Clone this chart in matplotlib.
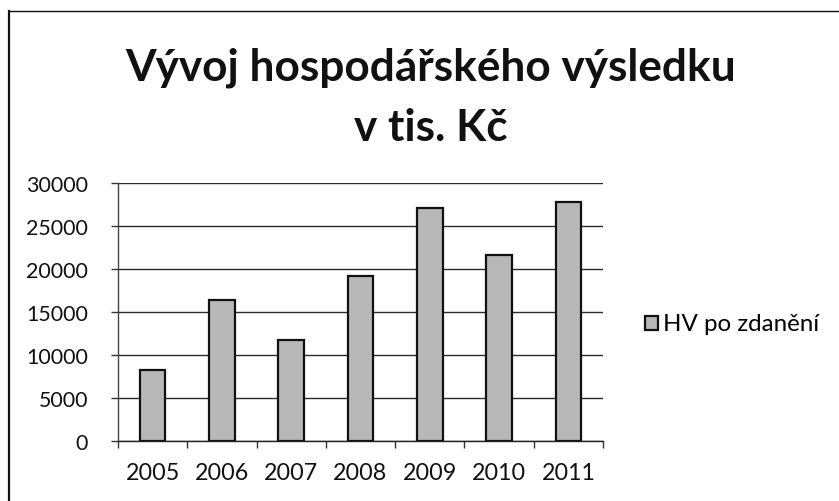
import numpy as np
import matplotlib.pyplot as plt
from matplotlib.lines import Line2D

# data
years = ['2005', '2006', '2007', '2008', '2009', '2010', '2011']
hv_po_zdaneni = [8200, 16400, 11800, 19200, 27100, 21600, 27800]
y_ticks = [0, 5000, 10000, 15000, 20000, 25000, 30000]

plt.rcParams['font.family'] = ['Lato', 'DejaVu Sans']

W, H = 839, 502
fig = plt.figure(figsize=(W / 100, H / 100), dpi=100)
ax = fig.add_axes([118 / W, 1 - 442 / H, 485 / W, 258 / H])

x = np.arange(len(years))
ax.bar(x, hv_po_zdaneni, width=0.37, color='#b8b8b8', edgecolor='#111111',
       linewidth=1.6, zorder=3, label='HV po zdanění')

ax.set_xlim(-0.5, len(years) - 0.5)
ax.set_ylim(0, 30000)
ax.set_yticks(y_ticks)
ax.set_yticklabels([str(v) for v in y_ticks])
ax.yaxis.grid(True, color='#2a2a2a', linewidth=1.0, zorder=0)

# category labels centred, ticks between categories
ax.set_xticks(x)
ax.set_xticklabels(years)
ax.set_xticks(np.arange(len(years) + 1) - 0.5, minor=True)
ax.tick_params(axis='x', which='major', length=0, pad=15, labelsize=16, labelcolor='#111111')
ax.tick_params(axis='x', which='minor', length=5, width=1.0, color='#333333')
ax.tick_params(axis='y', length=5, width=1.0, color='#333333', labelsize=16, pad=16.5,
               labelcolor='#111111')

for s in ['top', 'right']:
    ax.spines[s].set_visible(False)
ax.spines['left'].set_color('#444444')
ax.spines['left'].set_linestyle((0, (3, 1)))
ax.spines['left'].set_linewidth(1.0)
ax.spines['bottom'].set_color('#222222')
ax.spines['bottom'].set_linewidth(1.0)

t1 = fig.text(0.513, 1 - 68 / H, 'Vývoj hospodářského výsledku', ha='center', va='center',
              fontsize=30, fontweight='bold', color='#111111')
t2 = fig.text(0.513, 1 - 128 / H, 'v tis. Kč', ha='center', va='center',
              fontsize=30, fontweight='bold', color='#111111')

leg = ax.legend(loc='center left', bbox_to_anchor=(645 / W, 1 - 325 / H),
                bbox_transform=fig.transFigure, frameon=False, fontsize=16,
                borderpad=0, borderaxespad=0, handlelength=0.6, handleheight=0.6,
                handletextpad=0.2)

# scale font sizes so the text widths match the reference (Calibri is narrower)
fig.canvas.draw()
r = fig.canvas.get_renderer()
w = t1.get_window_extent(r).width
t1.set_fontsize(30 * 609 / w)
t2.set_fontsize(30 * 609 / w)
w = ax.get_yticklabels()[-1].get_window_extent(r).width
ax.tick_params(axis='y', labelsize=16 * 62 / w)
w = ax.get_xticklabels()[0].get_window_extent(r).width
ax.tick_params(axis='x', which='major', labelsize=16 * 54 / w)
w = leg.get_texts()[0].get_window_extent(r).width
for t in leg.get_texts():
    t.set_fontsize(16 * 157 / w)

# chart border (left and top visible)
fig.add_artist(Line2D([9 / W, 9 / W], [0, 1 - 12 / H], color='#111111', linewidth=1.6))
fig.add_artist(Line2D([9 / W, 1.0], [1 - 12 / H, 1 - 12 / H], color='#111111', linewidth=1.0))

fig.savefig('out.png', dpi=100, facecolor='white')
